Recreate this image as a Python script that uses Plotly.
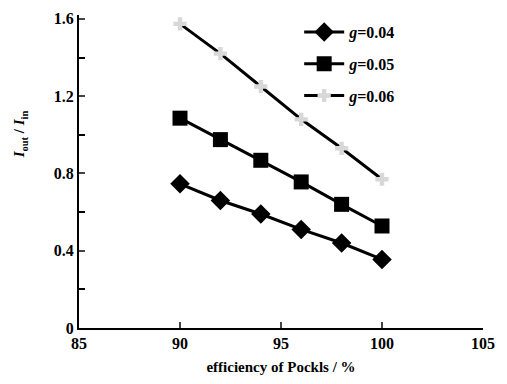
import plotly.graph_objects as go

efficiency = [90, 92, 94, 96, 98, 100]
g004 = [0.746, 0.66, 0.59, 0.51, 0.44, 0.355]
g005 = [1.086, 0.975, 0.868, 0.756, 0.64, 0.528]
g006 = [1.574, 1.42, 1.25, 1.08, 0.93, 0.77]
names = ["<i>g</i>=0.04", "<i>g</i>=0.05", "<i>g</i>=0.06"]
xticks = [85, 90, 95, 100, 105]
yticks = [0, 0.4, 0.8, 1.2, 1.6]
yminor = [0.2, 0.6, 1.0, 1.4]

font = "Liberation Serif"
fig = go.Figure()
fig.add_trace(go.Scatter(x=efficiency, y=g004, name=names[0], mode="lines+markers",
                         legendgroup="a",
                         line=dict(color="black", width=3),
                         marker=dict(symbol="diamond", size=15, color="black")))
fig.add_trace(go.Scatter(x=efficiency, y=g005, name=names[1], mode="lines+markers",
                         legendgroup="b",
                         line=dict(color="black", width=3),
                         marker=dict(symbol="square", size=15, color="black")))
fig.add_trace(go.Scatter(x=efficiency, y=g006, name=names[2], mode="lines+markers",
                         legendgroup="c",
                         line=dict(color="black", width=3),
                         marker=dict(symbol="cross", size=11, color="#d8d8d8")))

fig.add_annotation(text="<i>I</i><sub>out</sub> / <i>I</i><sub>in</sub>",
                   xref="paper", yref="paper", x=-0.145, y=0.62,
                   xanchor="center", yanchor="middle", textangle=-90,
                   showarrow=False, font=dict(size=15, family=font, weight="bold"))

fig.update_layout(
    width=507, height=384,
    margin=dict(l=79, r=24, t=11, b=54),
    paper_bgcolor="white", plot_bgcolor="white",
    font=dict(family=font, size=15, color="black", weight="bold"),
    showlegend=True,
    legend=dict(x=0.545, y=1.0, xanchor="left", yanchor="top",
                bgcolor="rgba(0,0,0,0)", font=dict(size=16, family=font, weight="bold"),
                traceorder="grouped", tracegroupgap=8,
                itemwidth=40),
    xaxis=dict(range=[85, 105], tickvals=xticks, ticks="inside", ticklen=6,
               tickwidth=2, showline=True, linewidth=2, linecolor="black",
               showgrid=False, zeroline=False,
               tickfont=dict(size=16, family=font, weight="bold"),
               title=dict(text="efficiency of Pockls / %",
                          font=dict(size=15, family=font, weight="bold"),
                          standoff=10)),
    yaxis=dict(range=[0, 1.62], tickvals=yticks,
               ticks="inside", ticklen=6, tickwidth=2,
               minor=dict(tickvals=yminor, ticks="inside", ticklen=6, tickwidth=2,
                          tickcolor="black"),
               showline=True, linewidth=2, linecolor="black",
               showgrid=False, zeroline=False,
               tickfont=dict(size=16, family=font, weight="bold")),
)

fig.write_html("out.html")
